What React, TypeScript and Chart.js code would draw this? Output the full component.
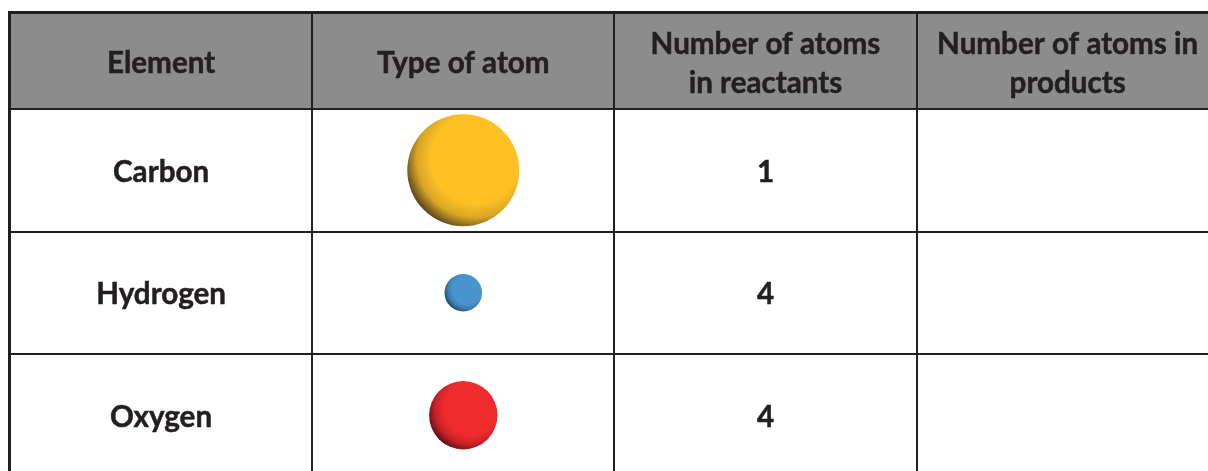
import React, { useEffect, useRef } from "react";
import { Chart, registerables } from "chart.js";

Chart.register(...registerables);

const columns = ["Element", "Type of atom", ["Number of atoms", "in reactants"], ["Number of atoms in", "products"]];
const elements = ["Carbon", "Hydrogen", "Oxygen"];
const atomSizes = [56, 18.8, 34.2];
const reactantCounts = [1, 4, 4];
const productCounts: (number | null)[] = [null, null, null];
const atomColors = ["#fec124", "#4a94ce", "#ef2b2c"];
const atomMids = ["#d8a526", "#3d7dad", "#c72226"];
const atomShadows = ["#5e4a1e", "#1f4a69", "#64101a"];

const INK = "#231f20";
const HEADER = "#8c8c8c";
const FONT = "Lato, 'Open Sans', sans-serif";
const TEXT_SIZE = 29.6;

const tablePlugin = {
  id: "table",
  beforeDraw(chart: any) {
    const { ctx, chartArea, scales } = chart;
    const top = scales.x.top;
    ctx.save();
    ctx.fillStyle = HEADER;
    ctx.fillRect(chartArea.left, top, chartArea.right - chartArea.left, chartArea.top - top);
    ctx.restore();
  },
  afterDraw(chart: any) {
    const { ctx, chartArea, scales } = chart;
    const { x, y } = scales;
    ctx.save();
    ctx.strokeStyle = INK;
    ctx.lineWidth = 3;
    ctx.beginPath();
    ctx.moveTo(chartArea.left - 2, x.top - 0.5);
    ctx.lineTo(chartArea.right, x.top - 0.5);
    ctx.moveTo(chartArea.left - 0.5, x.top - 0.5);
    ctx.lineTo(chartArea.left - 0.5, chartArea.bottom);
    ctx.stroke();
    ctx.fillStyle = INK;
    ctx.lineWidth = 0.5;
    ctx.font = `700 ${TEXT_SIZE}px ${FONT}`;
    ctx.textAlign = "center";
    ctx.textBaseline = "middle";
    const put = (text: string, px: number, py: number) => {
      ctx.fillText(text, px, py);
      ctx.strokeText(text, px, py);
    };
    elements.forEach((name, i) => {
      const py = y.getPixelForValue(i) + 2;
      put(name, x.getPixelForValue(0), py);
      put(String(reactantCounts[i]), x.getPixelForValue(2), py);
      if (productCounts[i] != null) put(String(productCounts[i]), x.getPixelForValue(3), py);
    });
    ctx.restore();
  },
};

function atomFill(context: any) {
  const chart = context.chart;
  const i = context.dataIndex;
  if (!chart.chartArea || i === undefined) return atomColors[0];
  const r = atomSizes[i];
  const cx = chart.scales.x.getPixelForValue(1) + r * 0.22;
  const cy = chart.scales.y.getPixelForValue(i) - r * 0.2;
  const g = chart.ctx.createRadialGradient(cx, cy, 0, cx, cy, r * 1.28);
  g.addColorStop(0, atomColors[i]);
  g.addColorStop(0.62, atomColors[i]);
  g.addColorStop(0.82, atomMids[i]);
  g.addColorStop(1, atomShadows[i]);
  return g;
}

export default function App() {
  const ref = useRef<HTMLCanvasElement>(null);
  useEffect(() => {
    const chart = new Chart(ref.current as HTMLCanvasElement, {
      type: "bubble",
      data: {
        labels: columns as any,
        datasets: [
          {
            label: "Type of atom",
            data: elements.map((name, i) => ({ x: columns[1], y: name, r: atomSizes[i] })) as any,
            backgroundColor: atomFill as any,
            borderWidth: 0,
          },
        ],
      },
      options: {
        responsive: false,
        animation: false,
        layout: { autoPadding: false, padding: { top: 13, left: 10, right: 6.2, bottom: 3.5 } },
        plugins: { legend: { display: false }, tooltip: { enabled: false } },
        scales: {
          x: {
            type: "category",
            position: "top",
            labels: columns as any,
            offset: true,
            afterFit: (s: any) => { s.height = 96; s.paddingLeft = 0; s.paddingRight = 0; },
            border: { display: false },
            grid: { offset: true, color: INK, lineWidth: 2, tickLength: 96, tickColor: INK, tickWidth: 2 } as any,
            ticks: {
              color: INK,
              maxRotation: 0,
              minRotation: 0,
              autoSkip: false,
              padding: -70,
              crossAlign: "center",
              textStrokeColor: INK,
              textStrokeWidth: 0.5,
              font: { family: FONT, size: TEXT_SIZE, weight: "bold", lineHeight: 39 / TEXT_SIZE },
            } as any,
          },
          y: {
            type: "category",
            labels: elements,
            offset: true,
            afterFit: (s: any) => { s.width = 0; s.paddingTop = 0; s.paddingBottom = 0; },
            border: { display: false },
            grid: { offset: true, color: INK, lineWidth: 2, drawTicks: false },
            ticks: { display: false },
          },
        },
      },
      plugins: [tablePlugin],
    } as any);
    return () => chart.destroy();
  }, []);
  return (
    <div style={{ position: "fixed", left: 0, top: 0, width: 1208, height: 471, overflow: "hidden", background: "#fff" }}>
      <canvas ref={ref} width={1225} height={480} style={{ display: "block", width: 1225, height: 480 }} />
    </div>
  );
}
